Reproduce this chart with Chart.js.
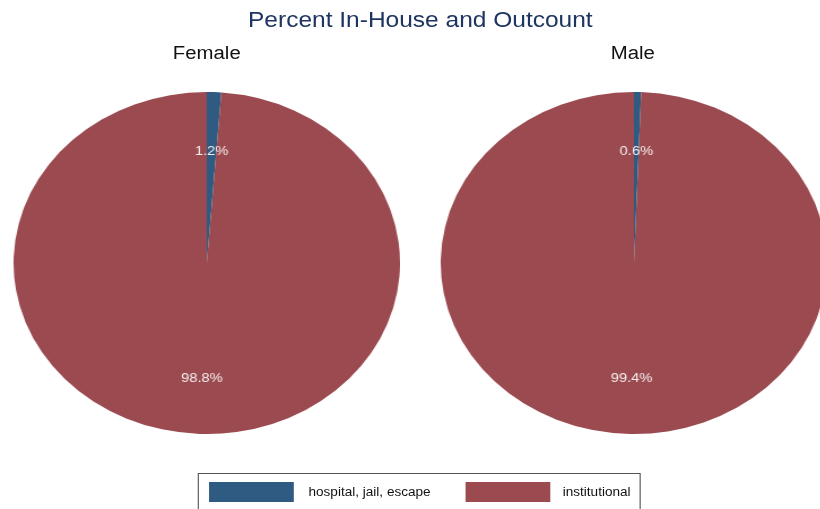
<!DOCTYPE html>
<html lang="en">
<head>
<meta charset="UTF-8">
<title>Percent In-House and Outcount</title>
<script src="https://cdn.jsdelivr.net/npm/chart.js"></script>
<style>
    html, body { margin: 0; padding: 0; background: white; overflow: hidden; }
    body { width: 820px; height: 509px; position: relative; font-family: "Liberation Sans", Arial, sans-serif; }
    /* the original graph is stretched sideways, so the whole layout is drawn narrow and scaled */
    #stage { position: absolute; left: 0; top: 0; width: 726px; height: 509px; transform: scaleX(1.13); transform-origin: 0 0; }
    #title { position: absolute; top: 7px; left: 0; width: 744px; text-align: center; font-size: 21.7px; color: #1e3461; }
    .sub { position: absolute; top: 43px; width: 342px; text-align: center; font-size: 18px; color: #111; }
    canvas { position: absolute; top: 92px; }
    #legend { position: absolute; left: 175px; top: 473px; width: 392px; height: 50px; border: 1px solid #555; box-sizing: border-box; background: white; }
    .sw { position: absolute; top: 8px; width: 75px; height: 20px; }
    .lt { position: absolute; top: 10px; font-size: 12px; color: #111; line-height: 16px; }
</style>
</head>
<body>
<div id="stage">
    <div id="title">Percent In-House and Outcount</div>
    <div class="sub" style="left:12px">Female</div>
    <div class="sub" style="left:389px">Male</div>
    <canvas id="femaleChart" width="342" height="342" style="left:12px"></canvas>
    <canvas id="maleChart" width="342" height="342" style="left:390px"></canvas>
    <div id="legend">
        <div class="sw" id="sw0" style="left:9px"></div>
        <div class="lt" id="lt0" style="left:97px"></div>
        <div class="sw" id="sw1" style="left:236px"></div>
        <div class="lt" id="lt1" style="left:322px"></div>
    </div>
</div>

<script>
    const categories = ["hospital, jail, escape", "institutional"];
    const femaleValues = [1.2, 98.8];
    const maleValues = [0.6, 99.4];
    const colors = ["#2f5b82", "#9b4a50"];

    // legend
    categories.forEach((c, i) => {
        document.getElementById("sw" + i).style.background = colors[i];
        document.getElementById("lt" + i).innerText = c;
    });

    // percent labels inside the slices
    const sliceLabels = {
        id: "sliceLabels",
        afterDatasetsDraw(chart) {
            const ctx = chart.ctx;
            const meta = chart.getDatasetMeta(0);
            const values = chart.data.datasets[0].data;
            ctx.save();
            ctx.font = "13px 'Liberation Sans', Arial, sans-serif";
            ctx.fillStyle = "#f6eeee";
            ctx.textAlign = "center";
            ctx.textBaseline = "middle";
            meta.data.forEach((arc, i) => {
                const mid = (arc.startAngle + arc.endAngle) / 2;
                const r = arc.outerRadius * 0.662;
                ctx.fillText(values[i].toFixed(1) + "%", arc.x + Math.cos(mid) * r, arc.y + Math.sin(mid) * r + 2);
            });
            ctx.restore();
        }
    };

    function makePie(id, values) {
        new Chart(document.getElementById(id).getContext("2d"), {
            type: "pie",
            data: {
                labels: categories,
                datasets: [{
                    data: values,
                    backgroundColor: colors,
                    borderWidth: 0
                }]
            },
            options: {
                responsive: false,
                animation: false,
                layout: { padding: 0 },
                plugins: { legend: { display: false }, tooltip: { enabled: false } }
            },
            plugins: [sliceLabels]
        });
    }

    makePie("femaleChart", femaleValues);
    makePie("maleChart", maleValues);
</script>
</body>
</html>
